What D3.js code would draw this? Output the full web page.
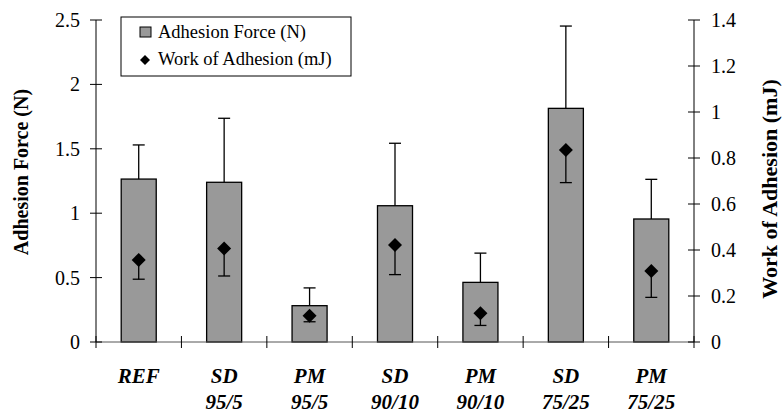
<!DOCTYPE html>
<html><head><meta charset="utf-8">
<script src="https://cdn.jsdelivr.net/npm/d3@7"></script>
<style>body{margin:0;background:#fff}svg{display:block}svg text{font-family:"Liberation Serif","Times New Roman",Times,serif}</style>
</head><body>
<svg id="c" width="782" height="414"></svg>
<script>
const categories = [["REF"],["SD","95/5"],["PM","95/5"],["SD","90/10"],["PM","90/10"],["SD","75/25"],["PM","75/25"]];
const forceValues = [1.265, 1.24, 0.282, 1.058, 0.463, 1.814, 0.955];
const forceErrors = [0.265, 0.497, 0.138, 0.485, 0.227, 0.639, 0.308];
const workValues = [0.357, 0.407, 0.114, 0.422, 0.125, 0.835, 0.309];
const workErrors = [0.084, 0.12, 0.026, 0.129, 0.053, 0.142, 0.115];
const leftTicks = [0, 0.5, 1, 1.5, 2, 2.5];
const rightTicks = [0, 0.2, 0.4, 0.6, 0.8, 1, 1.2, 1.4];

const svg = d3.select("#c");
const L = 96, R = 694, T = 20, B = 342;
const x = d3.scaleBand().domain(d3.range(categories.length)).range([L, R]);
const yL = d3.scaleLinear().domain([0, 2.5]).range([B, T]);
const yR = d3.scaleLinear().domain([0, 1.4]).range([B, T]);

// bars
const bw = x.bandwidth() * 0.41;
const g = svg.append("g");
g.selectAll("rect.bar").data(forceValues).join("rect")
  .attr("x", (d, i) => x(i) + x.bandwidth() / 2 - bw / 2)
  .attr("y", d => yL(d)).attr("width", bw).attr("height", d => B - yL(d))
  .attr("fill", "#999999").attr("stroke", "#000").attr("stroke-width", 1.3);
forceValues.forEach((v, i) => {
  const cx = x(i) + x.bandwidth() / 2;
  g.append("line").attr("x1", cx).attr("x2", cx).attr("y1", yL(v)).attr("y2", yL(v + forceErrors[i])).attr("stroke", "#000").attr("stroke-width", 1.3);
  g.append("line").attr("x1", cx - 6).attr("x2", cx + 6).attr("y1", yL(v + forceErrors[i])).attr("y2", yL(v + forceErrors[i])).attr("stroke", "#000").attr("stroke-width", 1.3);
});
workValues.forEach((v, i) => {
  const cx = x(i) + x.bandwidth() / 2;
  g.append("line").attr("x1", cx).attr("x2", cx).attr("y1", yR(v)).attr("y2", yR(v - workErrors[i])).attr("stroke", "#000").attr("stroke-width", 1.3);
  g.append("line").attr("x1", cx - 6).attr("x2", cx + 6).attr("y1", yR(v - workErrors[i])).attr("y2", yR(v - workErrors[i])).attr("stroke", "#000").attr("stroke-width", 1.3);
});
const dia = (s) => `M0,${-s}L${s},0L0,${s}L${-s},0Z`;
g.selectAll("path.dia").data(workValues).join("path")
  .attr("d", dia(7)).attr("fill", "#000")
  .attr("transform", (d, i) => `translate(${x(i) + x.bandwidth() / 2},${yR(d)})`);

// axes
const ax = svg.append("g").attr("stroke", "#000").attr("stroke-width", 1);
ax.append("line").attr("x1", L).attr("x2", L).attr("y1", T).attr("y2", B);
ax.append("line").attr("x1", R).attr("x2", R).attr("y1", T).attr("y2", B);
ax.append("line").attr("x1", L).attr("x2", R).attr("y1", B).attr("y2", B).attr("stroke", "#555");
leftTicks.forEach(t => ax.append("line").attr("x1", L - 6).attr("x2", L + 6).attr("y1", yL(t)).attr("y2", yL(t)));
rightTicks.forEach(t => ax.append("line").attr("x1", R - 6).attr("x2", R + 6).attr("y1", yR(t)).attr("y2", yR(t)));
d3.range(categories.length + 1).forEach(i => {
  const xx = i === categories.length ? R : x(i);
  ax.append("line").attr("x1", xx).attr("x2", xx).attr("y1", B - 6).attr("y2", B + 6);
});

const tx = svg.append("g").attr("fill", "#000");
leftTicks.forEach(t => tx.append("text").attr("x", L - 16).attr("y", yL(t)).attr("dy", "0.35em")
  .attr("text-anchor", "end").attr("font-size", 20).text(d3.format("~g")(t)));
rightTicks.forEach(t => tx.append("text").attr("x", R + 17).attr("y", yR(t)).attr("dy", "0.35em")
  .attr("text-anchor", "start").attr("font-size", 20).text(d3.format("~g")(t)));
categories.forEach((c, i) => {
  const cx = x(i) + x.bandwidth() / 2;
  c.forEach((s, k) => tx.append("text").attr("x", cx).attr("y", 383 + k * 26)
    .attr("text-anchor", "middle").attr("font-size", 21).attr("font-weight", "bold").attr("font-style", "italic").text(s));
});
tx.append("text").attr("transform", `translate(28,172) rotate(-90)`).attr("text-anchor", "middle")
  .attr("font-size", 20).attr("font-weight", "bold").text("Adhesion Force (N)");
tx.append("text").attr("transform", `translate(777,189) rotate(-90)`).attr("text-anchor", "middle")
  .attr("font-size", 22).attr("font-weight", "bold").text("Work of Adhesion (mJ)");

// legend
const lg = svg.append("g");
lg.append("rect").attr("x", 121).attr("y", 17).attr("width", 230).attr("height", 59).attr("fill", "#fff").attr("stroke", "#000").attr("stroke-width", 1);
lg.append("rect").attr("x", 140).attr("y", 27).attr("width", 11).attr("height", 10).attr("fill", "#999999").attr("stroke", "#000").attr("stroke-width", 1);
lg.append("path").attr("d", dia(5)).attr("fill", "#000").attr("transform", "translate(145,60)");
lg.append("text").attr("x", 158).attr("y", 38).attr("font-size", 18.5).text("Adhesion Force (N)");
lg.append("text").attr("x", 158).attr("y", 65).attr("font-size", 18.5).text("Work of Adhesion (mJ)");
</script>
</body></html>
